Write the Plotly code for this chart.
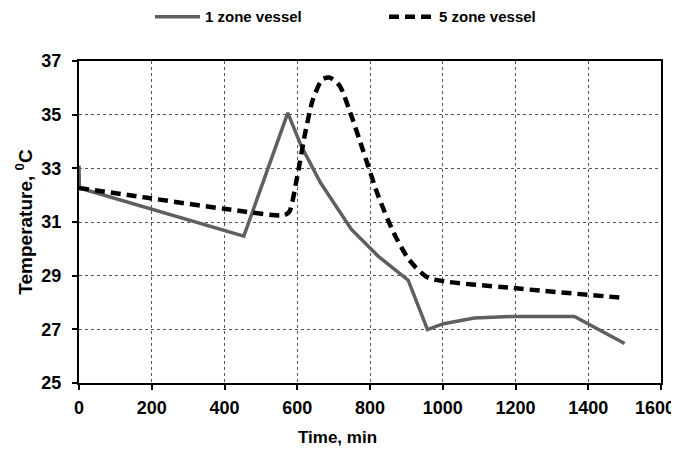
import plotly.graph_objects as go

# 1 zone vessel (solid grey)
t1 = [0, 1, 453, 574, 611, 664, 749, 823, 905, 958, 1002, 1087, 1193, 1362, 1500]
T1 = [33.1, 32.27, 30.47, 35.07, 33.83, 32.46, 30.72, 29.72, 28.83, 26.99, 27.21, 27.42, 27.48, 27.48, 26.47]

# 5 zone vessel (dashed black)
t5 = [0, 188, 400, 564, 579, 600, 622, 643, 669, 690, 717, 749, 780, 823, 865, 907, 960, 1193, 1500]
T5 = [32.27, 31.9, 31.49, 31.25, 31.4, 32.7, 34.33, 35.57, 36.32, 36.38, 36.07, 34.95, 33.7, 31.96, 30.6, 29.6, 28.92, 28.54, 28.17]

x_ticks = [0, 200, 400, 600, 800, 1000, 1200, 1400, 1600]
y_ticks = [25, 27, 29, 31, 33, 35, 37]

FONT = "Liberation Sans, Arial, sans-serif"

fig = go.Figure()
fig.add_trace(go.Scatter(x=t1, y=T1, mode="lines", name="<b>1 zone vessel</b>",
                         line=dict(color="#5f5f5f", width=3.5)))
fig.add_trace(go.Scatter(x=t5, y=T5, mode="lines", name="<b>5 zone vessel</b>",
                         line=dict(color="#000000", width=4.5, dash="10px,6px",
                                   shape="spline", smoothing=0.6)))

axis_common = dict(
    showline=True, linecolor="black", linewidth=2, mirror=True,
    showgrid=True, gridcolor="#555555", griddash="dot", gridwidth=1,
    ticks="outside", ticklen=5, tickcolor="black", tickwidth=1.5,
    zeroline=False, ticklabeloverflow="allow",
    tickfont=dict(family=FONT, size=18, color="black"),
)

# last x label is drawn as an annotation so it stays inside the window edge
x_text = [f"<b>{v}</b>" for v in x_ticks[:-1]] + [""]
fig.update_xaxes(range=[0, 1600], tickvals=x_ticks, ticktext=x_text,
                 ticklabelstandoff=2, **axis_common)
fig.add_annotation(text=f"<b>{x_ticks[-1]}</b>", xref="paper", yref="paper", x=1.0275, y=-0.077,
                   xanchor="right", yanchor="middle", showarrow=False,
                   font=dict(family=FONT, size=18, color="black"))

fig.update_yaxes(range=[25, 37], tickvals=y_ticks, ticktext=[f"<b>{v}</b>" for v in y_ticks],
                 ticklabelstandoff=7,
                 title=dict(text="<b>Temperature, <sup>0</sup>C</b>", font=dict(family=FONT, size=19, color="black"), standoff=4),
                 **axis_common)

# x-axis title (placed slightly left of centre, as in the original)
fig.add_annotation(text="<b>Time, min</b>", xref="paper", yref="paper", x=0.445, y=-0.168,
                   xanchor="center", yanchor="middle", showarrow=False,
                   font=dict(family=FONT, size=17, color="black"))

# page body has an 8px margin: margins are set to compensate
fig.update_layout(
    width=679, height=450,
    margin=dict(l=71, r=26, t=53, b=75, autoexpand=False),
    paper_bgcolor="white", plot_bgcolor="white",
    font=dict(family=FONT, color="black"),
    showlegend=True,
    legend=dict(orientation="h", x=0.122, xanchor="left", y=1.137, yanchor="middle",
                font=dict(family=FONT, size=15, color="black"),
                entrywidth=174, entrywidthmode="pixels", itemwidth=45,
                bgcolor="rgba(0,0,0,0)"),
)

fig.write_html("out.html")
